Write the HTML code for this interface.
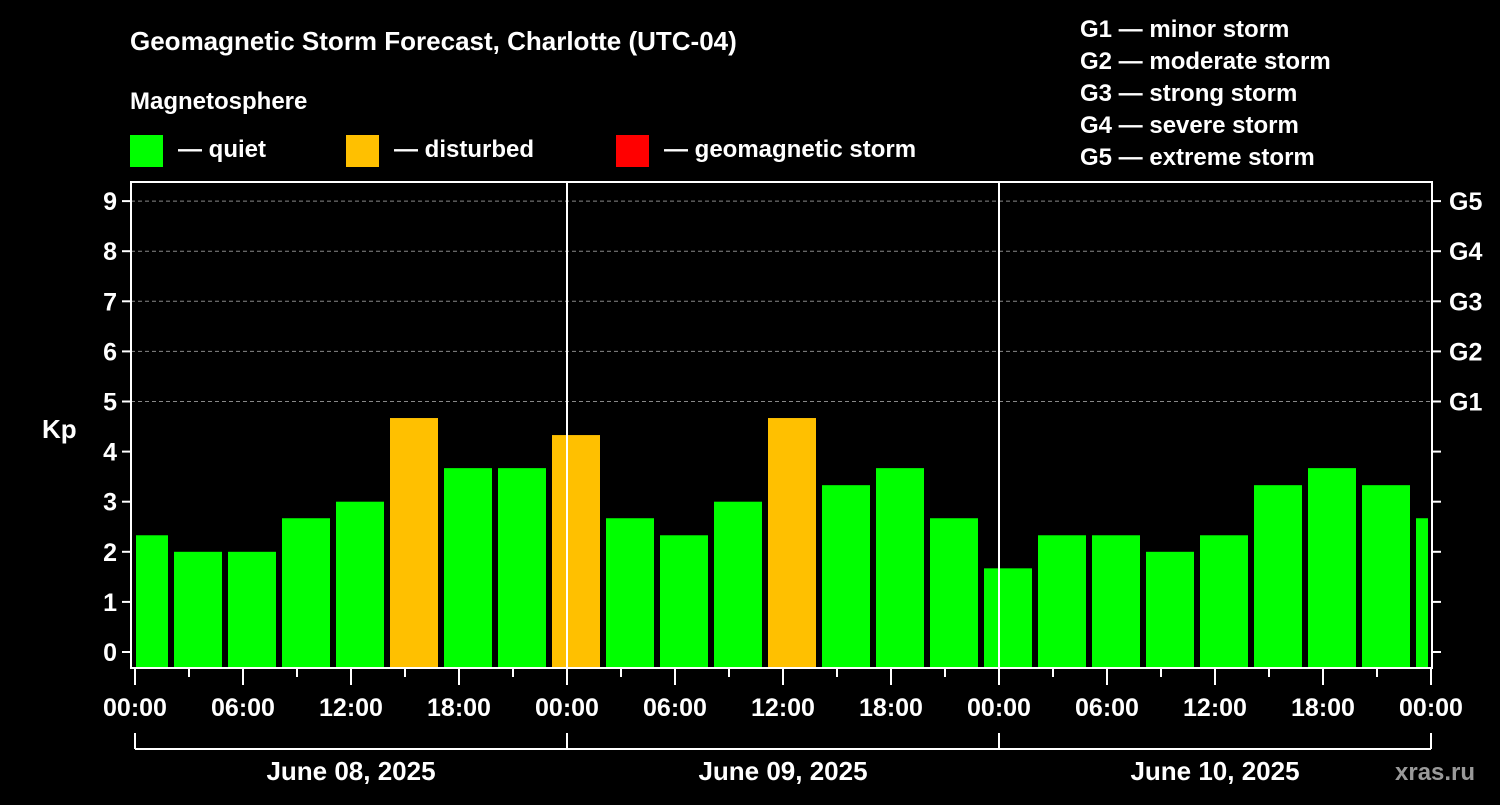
<!DOCTYPE html>
<html><head><meta charset="utf-8"><style>
body{margin:0;background:#000;width:1500px;height:800px;overflow:hidden}
svg text{font-family:"Liberation Sans",sans-serif;font-weight:bold;fill:#fff}
</style></head><body>
<svg id="chart" width="1500" height="800">
<rect width="1500" height="800" fill="#000"/>
<text x="130" y="50" font-size="26">Geomagnetic Storm Forecast, Charlotte (UTC-04)</text>
<text x="130" y="109" font-size="24">Magnetosphere</text>
<g><rect x="130" y="135" width="33" height="32" fill="#00ff00"/><text x="178" y="157" font-size="24">— quiet</text></g>
<g><rect x="346" y="135" width="33" height="32" fill="#ffc000"/><text x="394" y="157" font-size="24">— disturbed</text></g>
<g><rect x="616" y="135" width="33" height="32" fill="#ff0000"/><text x="664" y="157" font-size="24">— geomagnetic storm</text></g>
<g font-size="24">
<text x="1080" y="37">G1 — minor storm</text><text x="1080" y="69">G2 — moderate storm</text><text x="1080" y="101">G3 — strong storm</text><text x="1080" y="133">G4 — severe storm</text><text x="1080" y="165">G5 — extreme storm</text></g>
<text x="42" y="438" font-size="26">Kp</text>
<g id="grid"></g><g id="bars"></g><g id="axes"></g>
<text x="1395" y="780" font-size="24" fill="#aaa" style="fill:#9a9a9a">xras.ru</text>
</svg>
<script>
const kpValues=[2.33,2,2,2.67,3,4.67,3.67,3.67,4.33,2.67,2.33,3,4.67,3.33,3.67,2.67,1.67,2.33,2.33,2,2.33,3.33,3.67,3.33,2.67];
const yTicks=[0,1,2,3,4,5,6,7,8,9];
const gLabels=["G1","G2","G3","G4","G5"];
const xTickLabels=["00:00","06:00","12:00","18:00","00:00","06:00","12:00","18:00","00:00","06:00","12:00","18:00","00:00"];
const dayLabels=["June 08, 2025","June 09, 2025","June 10, 2025"];
const NS="http://www.w3.org/2000/svg";
const L=131,R=1432,T=182,B=668,X0=135,PXH=18;
const y=v=>652-50.1*v;
const x=h=>X0+h*PXH;
function mk(tag,attrs,parent,text){const e=document.createElementNS(NS,tag);for(const k in attrs)e.setAttribute(k,attrs[k]);if(text!==undefined)e.textContent=text;document.getElementById(parent).appendChild(e);return e;}
// grid
for(let v=5;v<=9;v++){const g=mk('line',{x1:L,x2:R,y1:y(v),y2:y(v),stroke:'#888','stroke-dasharray':'4,3','stroke-width':1},'grid');

}
// bars
kpValues.forEach((v,i)=>{const c=x(0.5+3*i);let x1=Math.max(c-24,L+5),x2=Math.min(c+24,R-4);
const r=mk('rect',{x:x1,y:y(v),width:x2-x1,height:B-1-y(v),fill:v>=4?'#ffc000':(v>=5?'#ff0000':'#00ff00')},'bars');

});
// frame
const f=mk('rect',{x:L,y:T,width:R-L,height:B-T,fill:'none',stroke:'#fff','stroke-width':2},'axes');


[1,2].forEach(d=>{const l=mk('line',{x1:x(24*d),x2:x(24*d),y1:T,y2:B,stroke:'#fff','stroke-width':2},'axes');

});
yTicks.forEach(v=>{mk('line',{x1:122,x2:L,y1:y(v),y2:y(v),stroke:'#fff','stroke-width':2},'axes');
mk('line',{x1:R,x2:1441,y1:y(v),y2:y(v),stroke:'#fff','stroke-width':2},'axes');
const t=mk('text',{x:117,y:y(v)+9,'font-size':25,'text-anchor':'end'},'axes',String(v));

});
gLabels.forEach((g,i)=>{const t=mk('text',{x:1449,y:y(5+i)+9,'font-size':25},'axes',g);

});
for(let h=0;h<=72;h+=3){mk('line',{x1:x(h),x2:x(h),y1:B,y2:h%6==0?685:677,stroke:'#fff','stroke-width':2},'axes');}
xTickLabels.forEach((s,i)=>{const t=mk('text',{x:x(6*i),y:716,'font-size':25,'text-anchor':'middle'},'axes',s);

});
mk('line',{x1:x(0),x2:x(72),y1:749,y2:749,stroke:'#fff','stroke-width':2},'axes');
for(let d=0;d<=3;d++)mk('line',{x1:x(24*d),x2:x(24*d),y1:733,y2:749,stroke:'#fff','stroke-width':2},'axes');
dayLabels.forEach((s,i)=>{const t=mk('text',{x:x(24*i+12),y:780,'font-size':26,'text-anchor':'middle'},'axes',s);

});
</script>
</body></html>
